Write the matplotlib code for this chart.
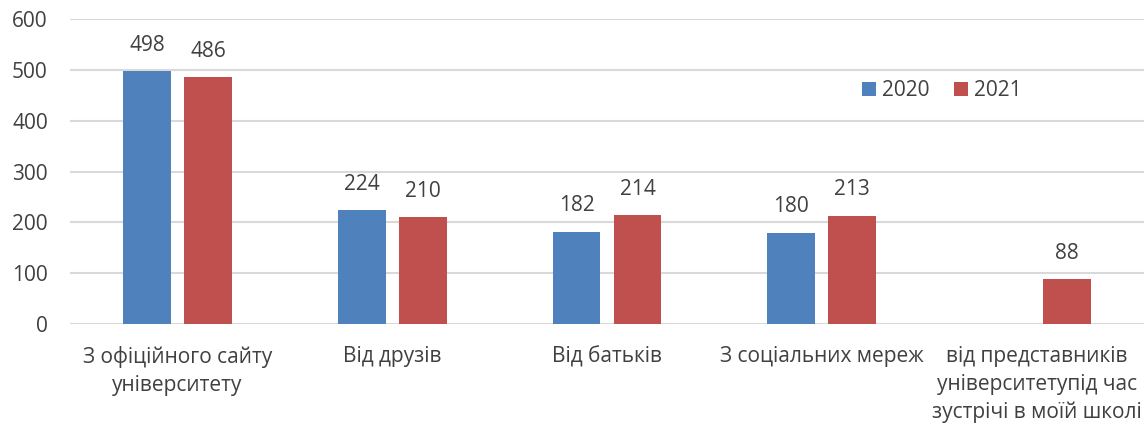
import matplotlib
matplotlib.use("Agg")
import matplotlib.pyplot as plt
import numpy as np

categories = ["З офіційного сайту\nуніверситету", "Від друзів", "Від батьків",
              "З соціальних мереж", "від представників\nуніверситетупід час\nзустрічі в моїй школі"]
series_names = ["2020", "2021"]
values_2020 = [498, 224, 182, 180, None]
values_2021 = [486, 210, 214, 213, 88]
y_ticks = [0, 100, 200, 300, 400, 500, 600]

plt.rcParams['font.family'] = ['Open Sans', 'DejaVu Sans']
text_color = '#404040'
colors = ['#4F81BD', '#C0504D']

fig = plt.figure(figsize=(11.44, 4.24), dpi=100)
ax = fig.add_axes([0.0612, 0.2358, 0.9388, 0.7192])

x = np.arange(len(categories))
w = 0.223
off = 0.142
for vals, o, c, name in [(values_2020, -off, colors[0], series_names[0]),
                          (values_2021, off, colors[1], series_names[1])]:
    xs = [xi + o for xi, v in zip(x, vals) if v is not None]
    vs = [v for v in vals if v is not None]
    bars = ax.bar(xs, vs, width=w, color=c, label=name, zorder=3)
    for xi, v in zip(xs, vs):
        ax.annotate(str(v), (xi, v), xytext=(0, 11), textcoords='offset points',
                    ha='center', va='bottom', fontsize=15, color=text_color)

ax.set_xlim(-0.5, len(categories) - 0.5)
ax.set_ylim(0, 600)
ax.set_yticks(y_ticks)
ax.set_yticklabels([str(t) for t in y_ticks], fontsize=15, color=text_color)
ax.set_xticks(x)
ax.set_xticklabels(categories, fontsize=15, color=text_color, linespacing=1.42)
ax.tick_params(axis='both', length=0)
ax.tick_params(axis='y', pad=16)
ax.tick_params(axis='x', pad=16)
ax.grid(axis='y', color='#D9D9D9', linewidth=1.5, zorder=0)
for s in ax.spines.values():
    s.set_visible(False)

leg = ax.legend(loc='center left', bbox_to_anchor=(0.72, 0.765), ncol=2, frameon=False,
                fontsize=15, handlelength=0.65, handleheight=0.65, handletextpad=0.3,
                columnspacing=1.2, labelcolor=text_color)

fig.savefig('out.png', dpi=100)
